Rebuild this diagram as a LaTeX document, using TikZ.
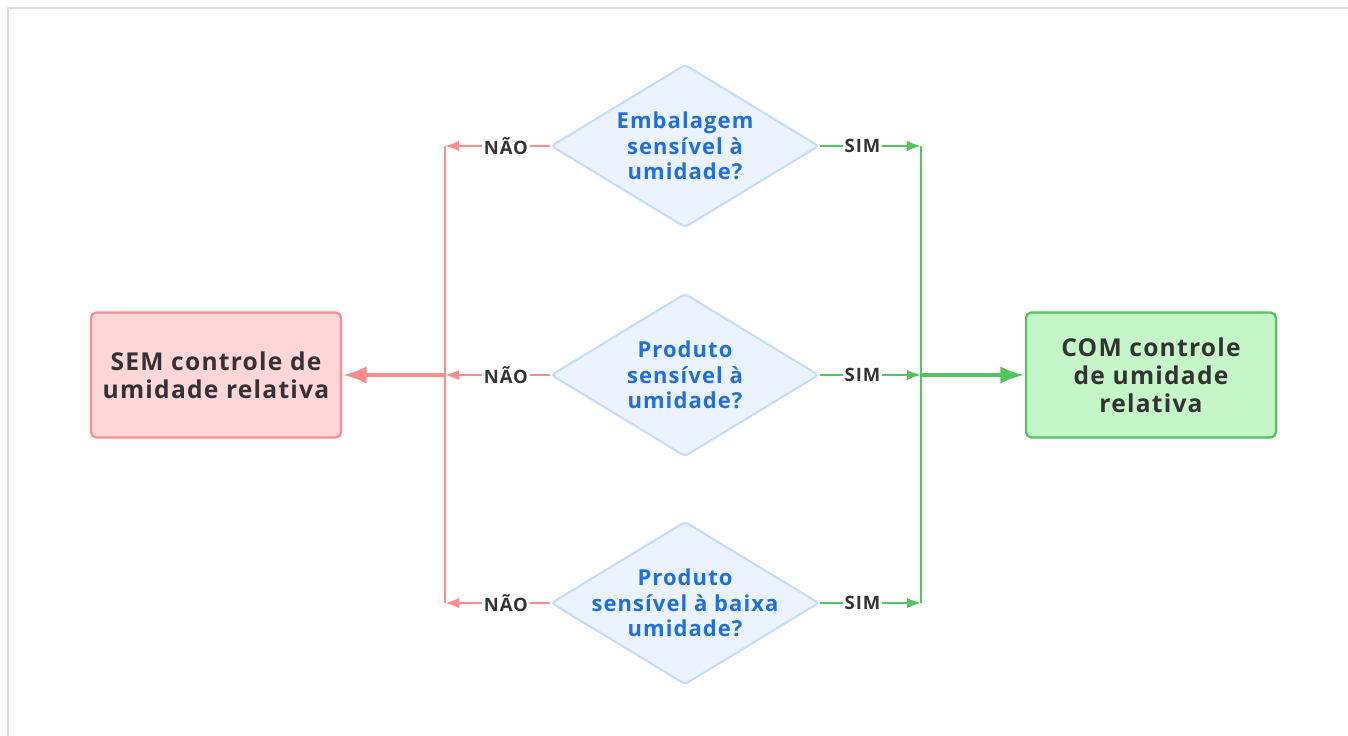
\documentclass[tikz,border=0pt]{standalone}
\usepackage{fontspec}
\setmainfont{Open Sans}[LetterSpace=5]
\usetikzlibrary{shapes.geometric,arrows.meta}

\definecolor{nored}{HTML}{FF8C8C}
\definecolor{nofill}{HTML}{FFD7D9}
\definecolor{yesgreen}{HTML}{52C55C}
\definecolor{yesfill}{HTML}{C4F6C8}
\definecolor{askline}{HTML}{C6DCF8}
\definecolor{askfill}{HTML}{EBF4FE}
\definecolor{asktext}{HTML}{1F6FE0}
\definecolor{inktext}{HTML}{333333}
\definecolor{framegray}{HTML}{DDDDDD}

\begin{document}
\begin{tikzpicture}[
  x=0.02cm, y=-0.02cm,
  question/.style={
    draw=askline,
    fill=askfill,
    line width=1.2pt,
    diamond,
    aspect=1.64,
    minimum width=5.36cm,
    minimum height=3.26cm,
    inner sep=-12pt,
    rounded corners=2pt,
    align=center,
    text=asktext,
    font=\bfseries\fontsize{12.5}{14.5}\selectfont
  },
  outcome/.style={
    rectangle,
    rounded corners=3pt,
    line width=1.3pt,
    minimum width=5cm,
    minimum height=2.5cm,
    align=center,
    text=inktext,
    font=\bfseries\fontsize{14}{16}\selectfont
  },
  answer/.style={
    fill=white,
    inner sep=1pt,
    pos=0.42,
    text=inktext,
    font=\bfseries\fontsize{10.5}{12}\selectfont
  },
  >={Latex[length=8pt,width=6pt]}
]
\useasboundingbox (0,0) rectangle (1348,736);

% Frame
\draw[framegray, line width=1.2pt] (8,736) -- (8,8) -- (1348,8);

% Questions
\node[question] (q1) at (685,146) {Embalagem\\sensível à\\umidade?};
\node[question] (q2) at (685,375) {Produto\\sensível à\\umidade?};
\node[question] (q3) at (685,603) {Produto\\sensível à baixa\\umidade?};

% Outcomes
\node[outcome, draw=nored, fill=nofill] (sem) at (216,375)
  {SEM controle de\\umidade relativa};
\node[outcome, draw=yesgreen, fill=yesfill] (com) at (1151,375)
  {COM controle\\de umidade\\relativa};

% Collector bars
\coordinate (n1) at (445,146);
\coordinate (n2) at (445,375);
\coordinate (n3) at (445,603);
\coordinate (s1) at (921,146);
\coordinate (s2) at (921,375);
\coordinate (s3) at (921,603);
\draw[nored, line width=1.2pt] (n1) -- (n3);
\draw[yesgreen, line width=1.2pt] (s1) -- (s3);

% Answers
\foreach \q in {1,2,3} {
  \draw[->, nored, line width=1.2pt] (q\q.west) -- node[answer] {NÃO} (n\q);
  \draw[->, yesgreen, line width=1.2pt] (q\q.east) -- node[answer] {SIM} (s\q);
}

% Results
\draw[-{Latex[length=14pt,width=10pt]}, nored, line width=2.6pt] (n2) -- (sem.east);
\draw[-{Latex[length=14pt,width=10pt]}, yesgreen, line width=2.6pt] (s2) -- (com.west);

\end{tikzpicture}
\end{document}
